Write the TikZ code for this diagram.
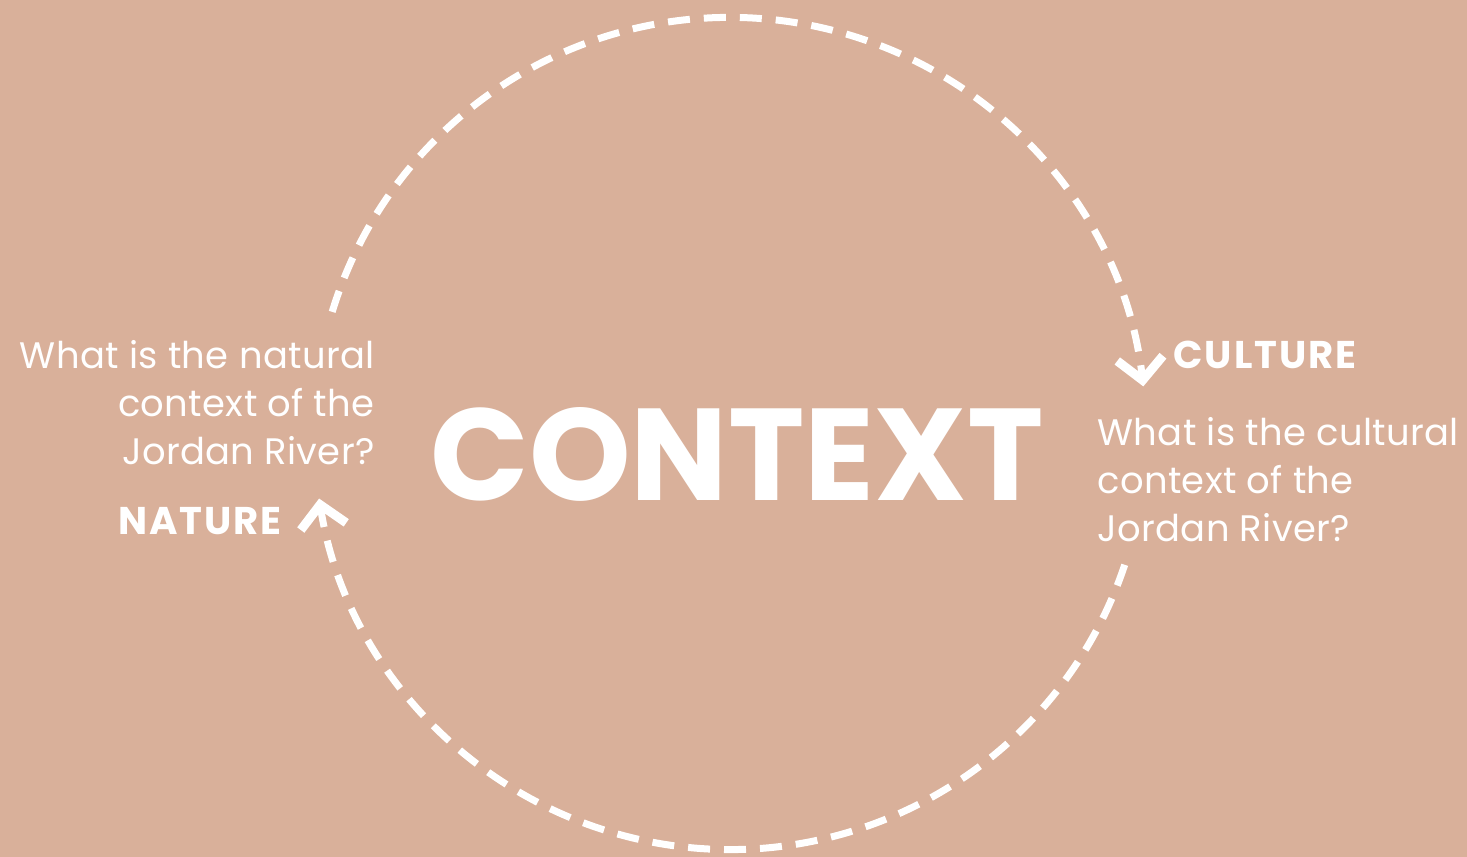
\documentclass[tikz,border=0pt]{standalone}
\usepackage{fontspec}
\setmainfont{Poppins}
\usepackage{graphicx}
\usetikzlibrary{arrows.meta}

\definecolor{sand}{HTML}{D9B09A}

\tikzset{
  cycle/.style={white, line width=0.14cm, dash pattern=on 0.44cm off 0.28cm,
    -{Straight Barb[length=0.44cm, width=0.92cm, line width=0.18cm]}},
  question/.style={white, inner sep=0pt,
    font=\fontsize{21}{27.3}\selectfont\addfontfeatures{LetterSpace=1}},
  label/.style={white, inner sep=0pt,
    font=\fontsize{22}{24}\selectfont\bfseries\addfontfeatures{LetterSpace=5}},
}

\begin{document}
\begin{tikzpicture}[x=0.02cm, y=0.02cm]
  \fill[sand] (0,0) rectangle (1467,857);
  \useasboundingbox (0,0) rectangle (1467,857);

  \coordinate (hub) at (730,423.5);
  \node[white, inner sep=0pt] (context) at (737,403)
    {\resizebox{12.26cm}{1.86cm}{\bfseries CONTEXT}};

  % left side
  \node[question, align=right, anchor=east] (naturalq) at (375,454)
    {What is the natural\\context of the\\Jordan River?};
  \node[label] (nature) at (200,336) {NATURE};

  % right side
  \node[label] (culture) at (1265,502) {CULTURE};
  \node[question, align=left, anchor=west] (culturalq) at (1097,377)
    {What is the cultural\\context of the\\Jordan River?};

  % the two halves of the loop
  \draw[cycle] (hub) ++(163:416) arc[start angle=163, end angle=6.5, radius=416];
  \draw[cycle] (hub) ++(-18.4:416) arc[start angle=-18.4, end angle=-171, radius=416];
\end{tikzpicture}
\end{document}
